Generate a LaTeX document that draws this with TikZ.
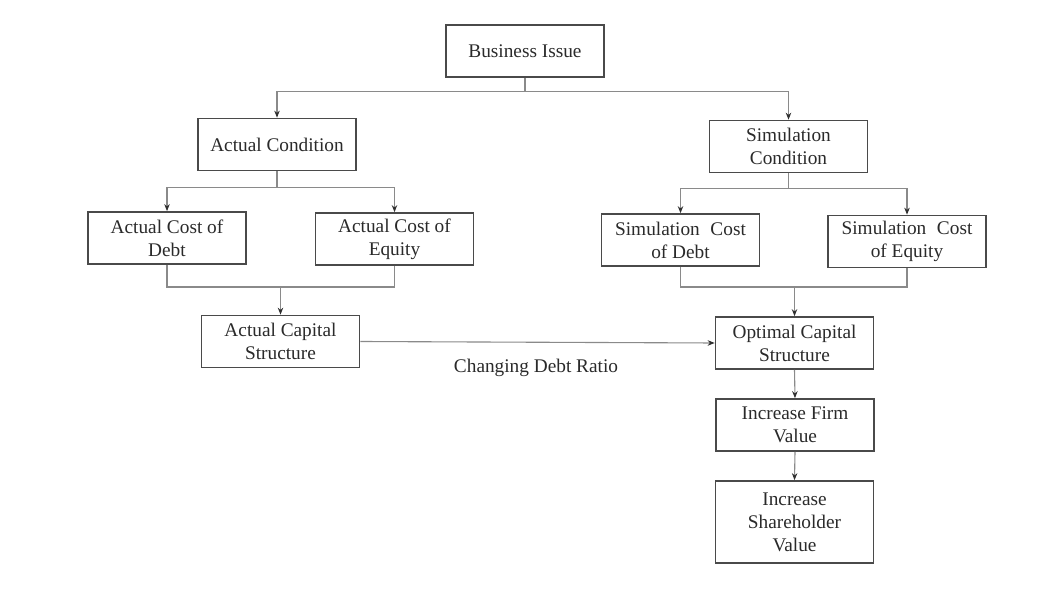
\documentclass[tikz,border=0pt]{standalone}
\usepackage{fontspec}
\setmainfont{Liberation Serif}
\usetikzlibrary{arrows.meta}
\definecolor{boxline}{HTML}{4A4A4A}
\definecolor{conline}{HTML}{8A8A8A}
\definecolor{tipcol}{HTML}{303030}
\definecolor{txt}{HTML}{2A2A2A}
\tikzset{
  box/.style={draw=boxline, line width=1.7pt, minimum width=158pt, minimum height=52pt,
    inner sep=2pt, align=center, text=txt, font=\fontsize{19.3}{23}\selectfont},
  conn/.style={draw=conline, line width=1.1pt},
  arr/.style={conn, -{Stealth[length=7pt,width=5.5pt,color=tipcol]}},
  lbl/.style={text=txt, font=\fontsize{19.3}{23}\selectfont}
}
\begin{document}
\begin{tikzpicture}[x=1pt,y=-1pt]
\useasboundingbox (0,0) rectangle (1047,593);
\fill[white] (0,0) rectangle (1047,593);
% nodes
\node[box] (biz) at (525,51) {Business Issue};
\node[box] (ac)  at (277,144.5) {Actual Condition};
\node[box] (sc)  at (788.5,146.5) {Simulation\\Condition};
\node[box] (acd) at (167,238) {Actual Cost of\\Debt};
\node[box] (ace) at (394.5,239) {Actual Cost of\\Equity};
\node[box] (scd) at (680.5,240) {Simulation\hspace{0.3em} Cost\\of Debt};
\node[box] (sce) at (907,241.5) {Simulation\hspace{0.3em} Cost\\of Equity};
\node[box] (acs) at (280.5,341.5) {Actual Capital\\Structure};
\node[box] (ocs) at (794.5,343) {Optimal Capital\\Structure};
\node[box] (ifv) at (795,425) {Increase Firm\\Value};
\node[box, minimum height=82pt] (isv) at (794.5,522) {Increase\\Shareholder\\Value};
\node[lbl] (cdr) at (536,368) {Changing Debt Ratio};
% join coordinates
\coordinate (aj) at (280.5,287);
\coordinate (sj) at (794.5,287);
% connectors
\draw[conn] (biz.south) -- ++(0,14) coordinate (bt);
\draw[arr] (bt) -| (ac.north);
\draw[arr] (bt) -| (sc.north);
\draw[conn] (ac.south) -- ++(0,16) coordinate (at);
\draw[arr] (at) -| (acd.north);
\draw[arr] (at) -| (ace.north);
\draw[conn] (sc.south) -- ++(0,15) coordinate (st);
\draw[arr] (st) -| (scd.north);
\draw[arr] (st) -| (sce.north);
\draw[conn] (acd.south) |- (aj) -| (ace.south);
\draw[arr] (aj) -- (acs.north);
\draw[conn] (scd.south) |- (sj) -| (sce.south);
\draw[arr] (sj) -- (ocs.north);
\draw[arr] (acs.east) -- (ocs.west);
\draw[arr] (ocs.south) -- (ifv.north);
\draw[arr] (ifv.south) -- (isv.north);
\end{tikzpicture}
\end{document}
